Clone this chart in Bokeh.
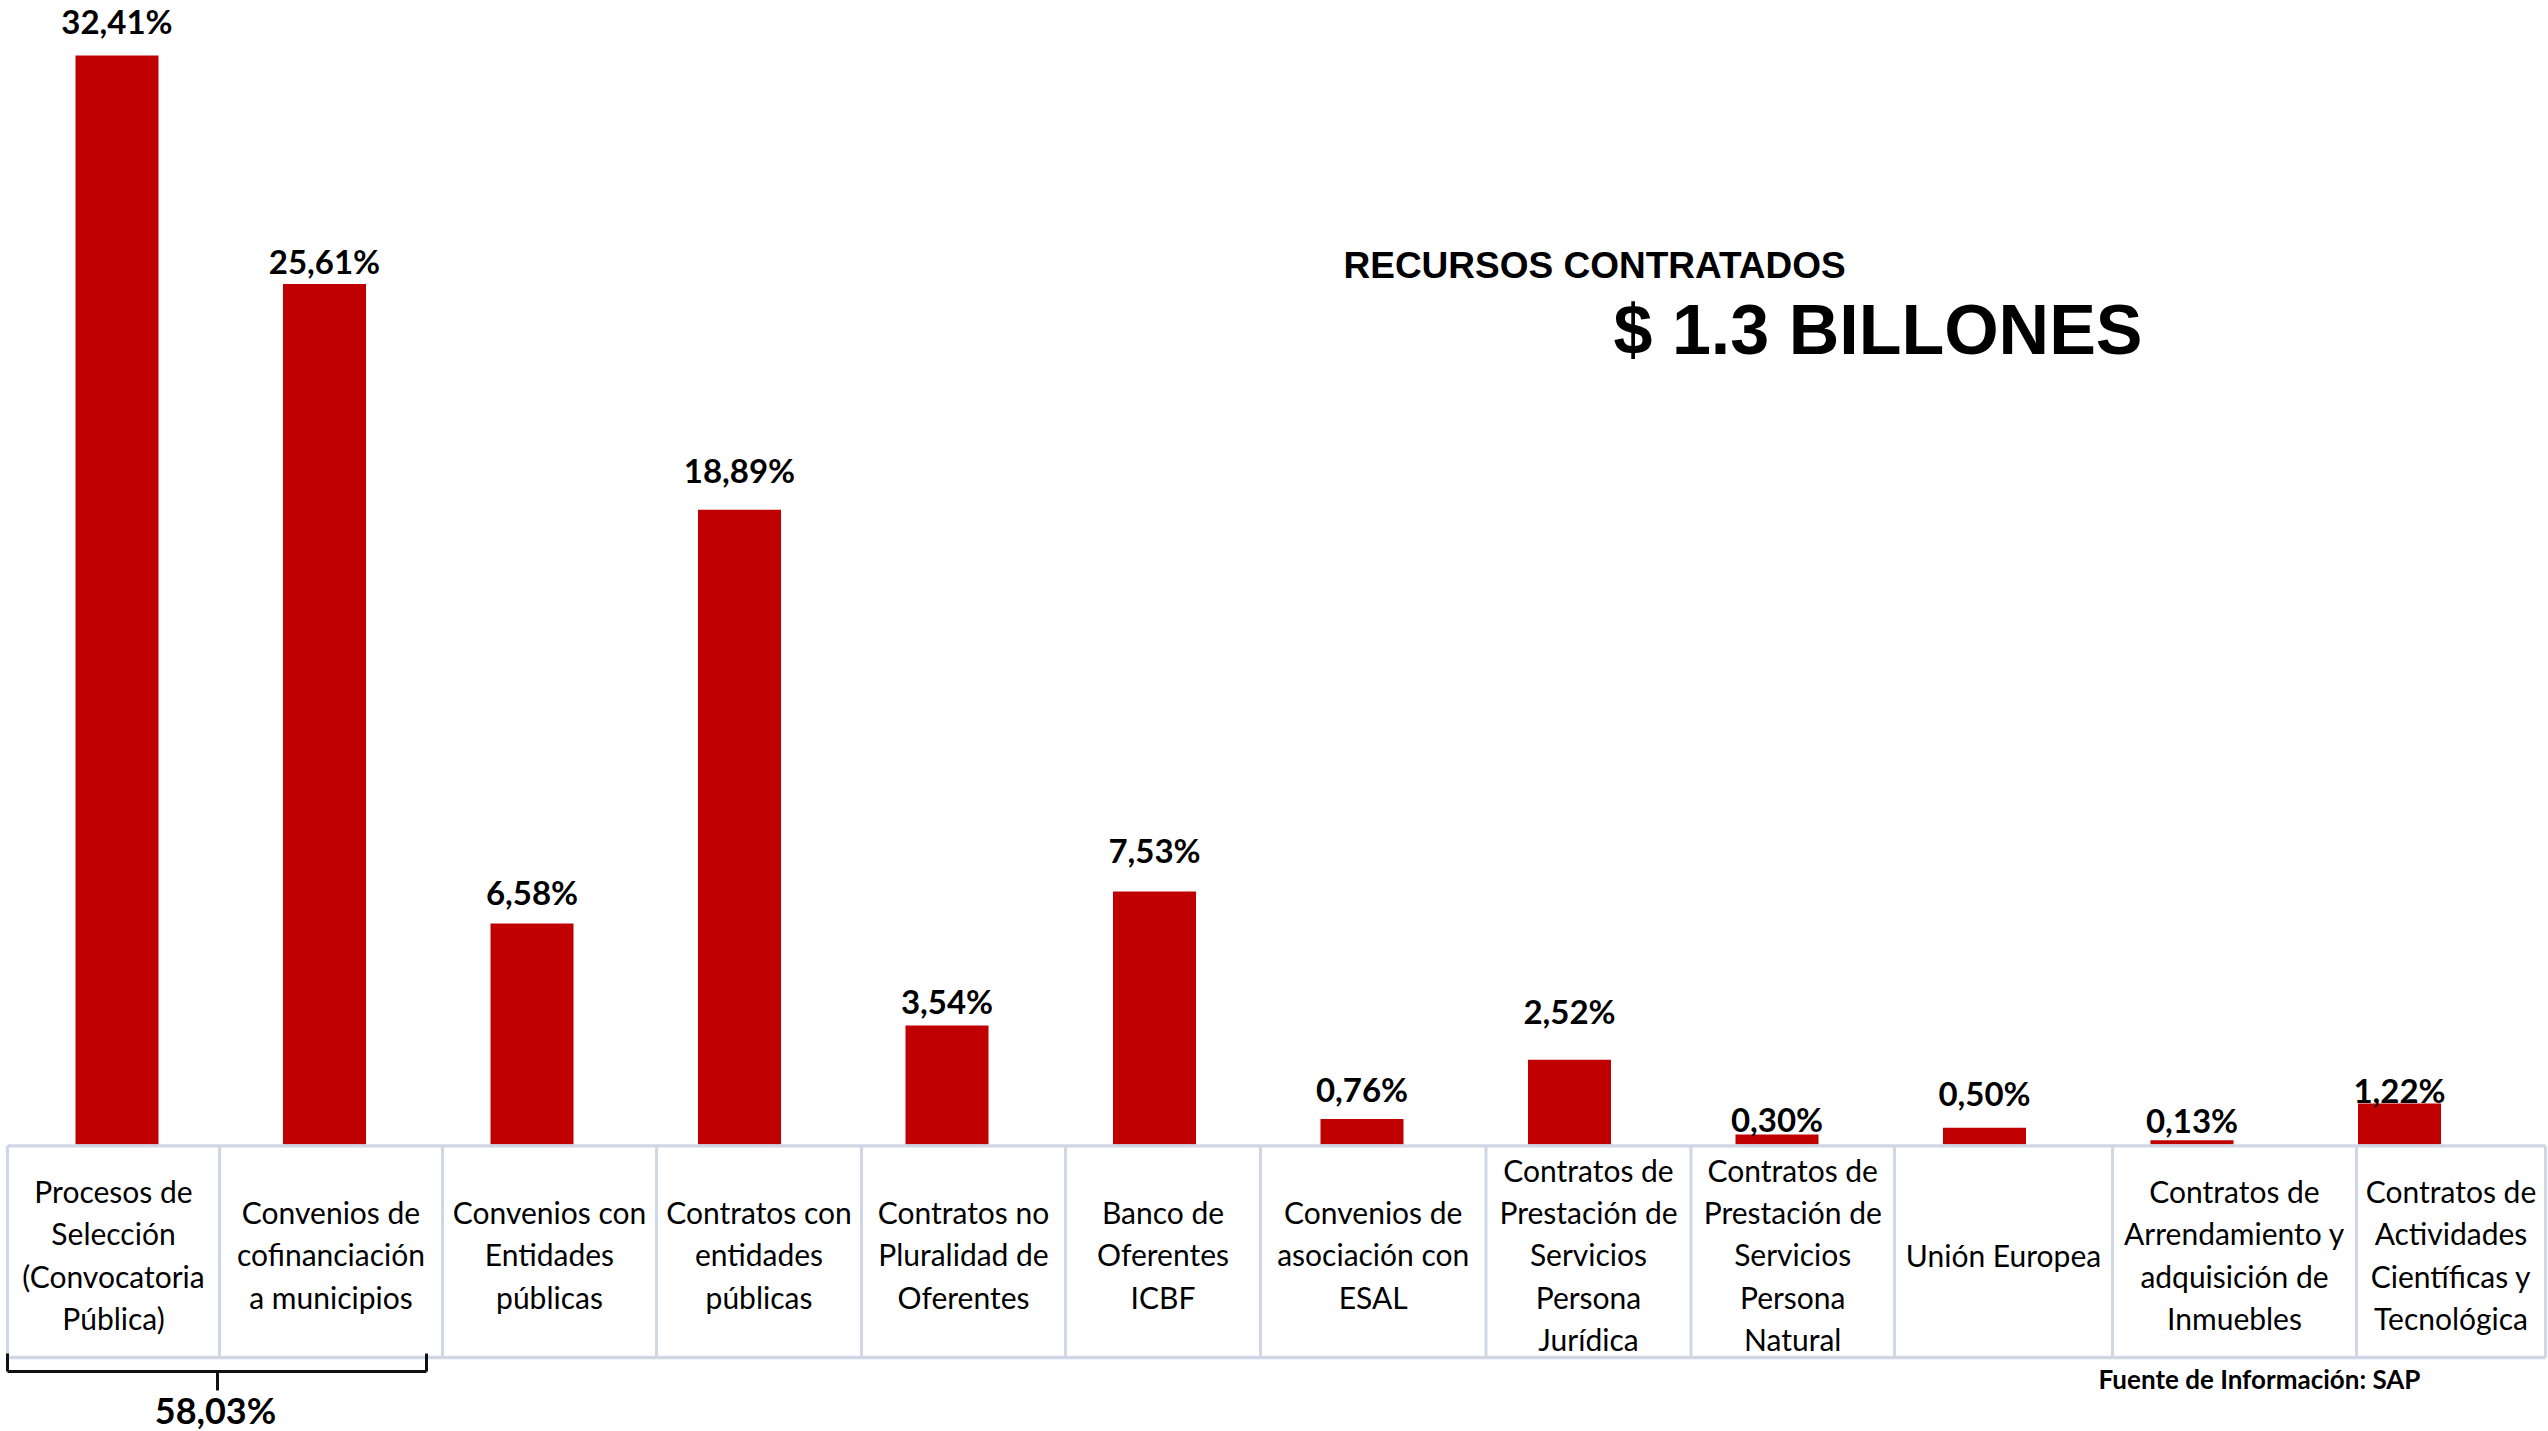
from bokeh.plotting import figure
from bokeh.models import Range1d, ColumnDataSource
from bokeh.core.properties import value
from bokeh.embed import file_html
from bokeh.resources import INLINE

# ---------------- data ----------------
categories = [
    "Procesos de\nSelección\n(Convocatoria\nPública)",
    "Convenios de\ncofinanciación\na municipios",
    "Convenios con\nEntidades\npúblicas",
    "Contratos con\nentidades\npúblicas",
    "Contratos no\nPluralidad de\nOferentes",
    "Banco de\nOferentes\nICBF",
    "Convenios de\nasociación con\nESAL",
    "Contratos de\nPrestación de\nServicios\nPersona\nJurídica",
    "Contratos de\nPrestación de\nServicios\nPersona\nNatural",
    "Unión Europea",
    "Contratos de\nArrendamiento y\nadquisición de\nInmuebles",
    "Contratos de\nActividades\nCientíficas y\nTecnológica",
]
shares = [32.41, 25.61, 6.58, 18.89, 3.54, 7.53, 0.76, 2.52, 0.30, 0.50, 0.13, 1.22]
group_total = 58.03
title_small = "RECURSOS CONTRATADOS"
title_big = "$ 1.3 BILLONES"
source_note = "Fuente de Información: SAP"

def pct(v):
    return f"{v:.2f}".replace(".", ",") + "%"

# ---------------- layout (pixels) ----------------
W, H = 2548, 1431
PX_PER_PCT = 33.6
BASE_Y = 1144          # baseline, px from top of the figure
X0, STEP = 116.5, 207.5
label_gap_px = [35, 23, 31.5, 40, 24.5, 41.5, 30, 48.5, 15.5, 35, 20, 13.5]
col_edges_px = [7, 219, 442, 656, 861, 1065, 1260, 1485.5, 1690.5, 1894, 2112, 2356, 2545]
table_top, table_bottom = 1145.3, 1357
text_mid = 1254

p = figure(
    width=W, height=H,
    x_range=Range1d(-X0 / STEP, (W - X0) / STEP),
    y_range=Range1d(-(H - BASE_Y) / PX_PER_PCT, BASE_Y / PX_PER_PCT),
    output_backend="svg", toolbar_location=None, min_border=0,
    x_axis_location=None, y_axis_location=None,
    outline_line_color=None, background_fill_color="white", border_fill_color="white",
)
p.grid.visible = False
p.extra_x_ranges = {"px": Range1d(0, W)}
p.extra_y_ranges = {"py": Range1d(H, 0)}

src = ColumnDataSource(dict(
    idx=list(range(len(shares))),
    val=shares,
    lbl=[pct(v) for v in shares],
    yoff=[-g for g in label_gap_px],
))

p.vbar(x="idx", top="val", bottom=0, width=0.4, source=src,
       fill_color="#C00000", line_color=None)
p.text(x="idx", y="val", text="lbl", y_offset="yoff", source=src,
       text_align="center", text_baseline="middle",
       text_font=value("Lato"), text_font_style="bold", text_font_size="33px",
       text_color="#000000")

# table
border = "#CFD6E5"
p.segment(x0=[col_edges_px[0]] * 2, x1=[col_edges_px[-1]] * 2,
          y0=[table_top, table_bottom], y1=[table_top, table_bottom],
          x_range_name="px", y_range_name="py", line_color=border, line_width=3.3)
p.segment(x0=col_edges_px, x1=col_edges_px,
          y0=[table_top] * len(col_edges_px), y1=[table_bottom] * len(col_edges_px),
          x_range_name="px", y_range_name="py", line_color=border, line_width=3)
col_centers = [(a + b) / 2 for a, b in zip(col_edges_px[:-1], col_edges_px[1:])]
p.text(x=col_centers, y=[text_mid] * len(categories), text=categories,
       x_range_name="px", y_range_name="py",
       text_align="center", text_baseline="middle",
       text_font=value("Lato"), text_font_size="30px", text_line_height=1.18,
       text_color="#000000")

# bracket for the first two categories
bx_l, bx_r, bx_m = 7, 426, 217
by_t, by_h, by_b = 1353, 1371, 1390
p.segment(x0=[bx_l, bx_l, bx_r, bx_m], y0=[by_t, by_h, by_t, by_h],
          x1=[bx_l, bx_r, bx_r, bx_m], y1=[by_h, by_h, by_h, by_b],
          x_range_name="px", y_range_name="py", line_color="#111111", line_width=3)
p.text(x=[bx_m - 2], y=[1409.5], text=[pct(group_total)],
       x_range_name="px", y_range_name="py",
       text_align="center", text_baseline="middle",
       text_font=value("Lato"), text_font_style="bold", text_font_size="36px",
       text_color="#000000")

# source note
p.text(x=[2259], y=[1378], text=[source_note],
       x_range_name="px", y_range_name="py",
       text_align="center", text_baseline="middle",
       text_font=value("Lato"), text_font_style="bold", text_font_size="26px",
       text_color="#000000")

# headline texts
p.text(x=[1343], y=[265], text=[title_small],
       x_range_name="px", y_range_name="py",
       text_align="left", text_baseline="middle",
       text_font=value("Liberation Sans"), text_font_style="bold", text_font_size="37px",
       text_color="#000000")
p.text(x=[1613], y=[329], text=[title_big],
       x_range_name="px", y_range_name="py",
       text_align="left", text_baseline="middle",
       text_font=value("Liberation Sans"), text_font_style="bold", text_font_size="70px",
       text_color="#000000")

open("out.html", "w").write(file_html(p, INLINE))
